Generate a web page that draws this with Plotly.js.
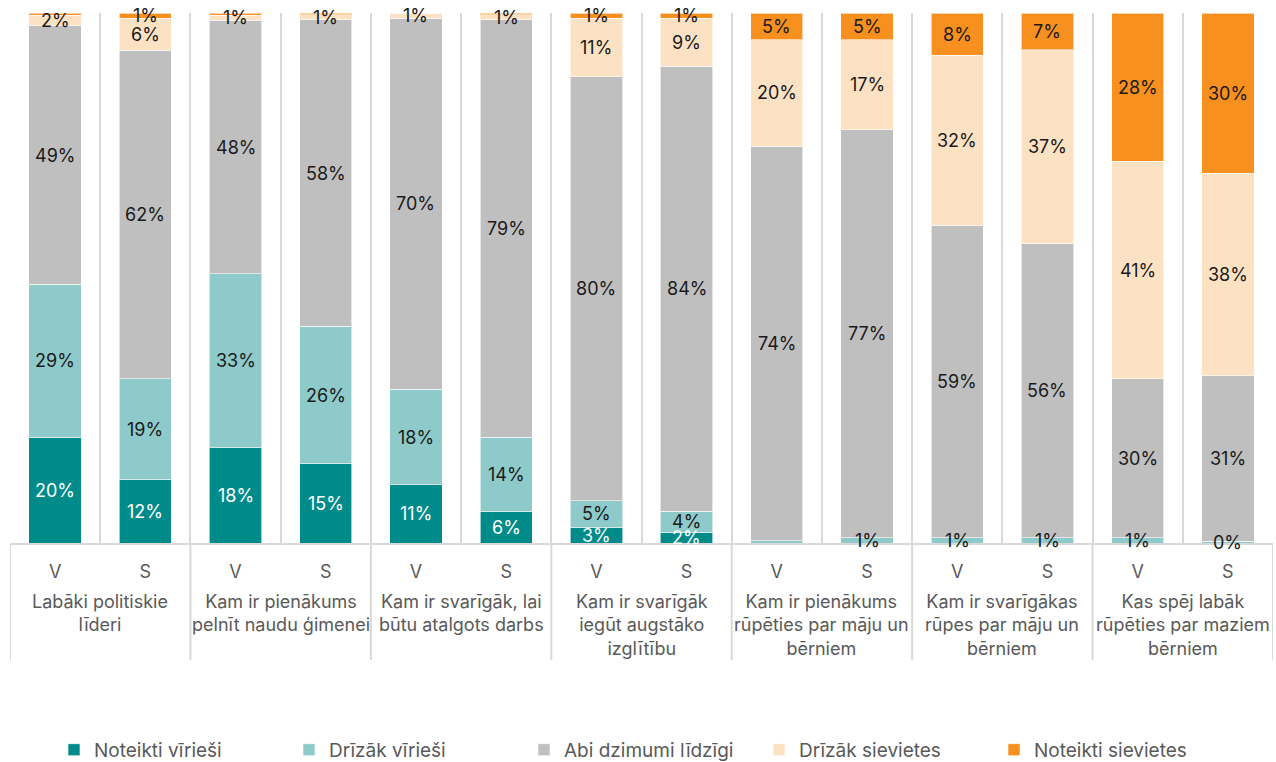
<!DOCTYPE html>
<html>
<head>
<meta charset="utf-8">
<script src="https://cdn.plot.ly/plotly-3.0.1.min.js"></script>
<style>html,body{margin:0;padding:0;background:#fff;}#chart{width:1276px;height:762px;}</style>
</head>
<body>
<div id="chart"></div>
<script>
const groups = [
  'Labāki politiskie<br>līderi',
  'Kam ir pienākums<br>pelnīt naudu ģimenei',
  'Kam ir svarīgāk, lai<br>būtu atalgots darbs',
  'Kam ir svarīgāk<br>iegūt augstāko<br>izglītību',
  'Kam ir pienākums<br>rūpēties par māju un<br>bērniem',
  'Kam ir svarīgākas<br>rūpes par māju un<br>bērniem',
  'Kas spēj labāk<br>rūpēties par maziem<br>bērniem'
];
const sexes = ['V', 'S'];

const seriesNames = ['Noteikti vīrieši', 'Drīzāk vīrieši', 'Abi dzimumi līdzīgi', 'Drīzāk sievietes', 'Noteikti sievietes'];
const noteiktiVirieshi  = [20, 12, 18, 15, 11, 6, 3, 2, 0, 0, 0, 0, 0, 0];
const drizakVirieshi    = [29, 19, 33, 26, 18, 14, 5, 4, 0.4, 1, 1, 1, 1, 0.3];
const abiDzimumi        = [49, 62, 48, 58, 70, 79, 80, 84, 74, 77, 59, 56, 30, 31];
const drizakSievietes   = [2, 6, 1, 1, 1, 1, 11, 9, 20, 17, 32, 37, 41, 38];
const noteiktiSievietes = [0.4, 1, 0.4, 0.3, 0, 0.3, 1, 1, 5, 5, 8, 7, 28, 30];
// labels that the reference shows for tiny segments (series index, bar index)
const forcedLabels = [[1, 13]];

const colors = ['#008b8b', '#8ecaca', '#bfbfbf', '#fde1c3', '#f7901e'];
const textColors = ['#ffffff', '#1a1a1a', '#1a1a1a', '#1a1a1a', '#1a1a1a'];
const labelFont = {family: 'Inter, sans-serif', size: 18, color: '#595959'};

// bar positions (one per group x sex) and their tick labels
const xPos = [], xText = [];
groups.forEach((g, gi) => sexes.forEach((s, si) => { xPos.push(gi * sexes.length + si); xText.push(s); }));
const nBars = xPos.length;

const allSeries = [noteiktiVirieshi, drizakVirieshi, abiDzimumi, drizakSievietes, noteiktiSievietes];
const traces = allSeries.map((vals, si) => ({
  type: 'bar',
  name: seriesNames[si],
  x: xPos,
  y: vals,
  marker: {color: colors[si], line: {color: 'rgba(255,255,255,0.6)', width: 1}},
  hoverinfo: 'name+y'
}));

// value labels as annotations at the middle of each (normalized) segment, drawn on top
const totals = [];
for (let i = 0; i < nBars; i++) totals.push(allSeries.reduce((s, a) => s + a[i], 0));
const annotations = [];
const cum = new Array(nBars).fill(0);
allSeries.forEach((vals, si) => {
  vals.forEach((v, i) => {
    const norm = v / totals[i] * 100;
    const mid = cum[i] + norm / 2;
    cum[i] += norm;
    const forced = forcedLabels.some(f => f[0] === si && f[1] === i);
    if (v >= 0.5 || forced) {
      annotations.push({
        x: xPos[i], y: mid, xref: 'x', yref: 'y',
        text: Math.round(v) + '%', showarrow: false,
        font: {family: 'Inter, sans-serif', size: 18, color: textColors[si]}
      });
    }
  });
});

// group labels under the V/S row, and group dividers
const shapes = [];
groups.forEach((g, gi) => {
  annotations.push({
    x: gi * sexes.length + (sexes.length - 1) / 2, xref: 'x',
    y: -0.088, yref: 'paper', yanchor: 'top',
    text: g, showarrow: false, borderpad: 0,
    font: labelFont, align: 'center'
  });
});
for (let gi = 0; gi <= groups.length; gi++) {
  const xb = gi * sexes.length - 0.5;
  shapes.push({type: 'line', xref: 'x', yref: 'paper', x0: xb, x1: xb, y0: 0, y1: -0.221,
               line: {color: '#d9d9d9', width: 2}});
}
const boundaries = [];
for (let i = 0; i <= nBars; i++) boundaries.push(i - 0.5);

const layout = {
  width: 1276, height: 762,
  margin: {l: 10, r: 3, t: 13, b: 219},
  barmode: 'stack',
  barnorm: 'percent',
  bargap: 0.42,
  paper_bgcolor: '#fff', plot_bgcolor: '#fff',
  font: {family: 'Inter, sans-serif', color: '#595959'},
  showlegend: true,
  legend: {
    orientation: 'h', x: 0.5, xanchor: 'center',
    yref: 'container', y: 0.016, yanchor: 'middle',
    font: {family: 'Inter, sans-serif', size: 19, color: '#595959'},
    entrywidth: 190, entrywidthmode: 'pixels',
    traceorder: 'normal'
  },
  annotations: annotations,
  shapes: shapes,
  xaxis: {
    type: 'linear', range: [-0.5, nBars - 0.5],
    tickmode: 'array', tickvals: xPos, ticktext: xText,
    showgrid: false, zeroline: false,
    minor: {tickmode: 'array', tickvals: boundaries, showgrid: true, gridcolor: '#d9d9d9', gridwidth: 2, ticks: ''},
    showline: true, linecolor: '#d9d9d9', linewidth: 2,
    ticks: 'outside', ticklen: 11, tickcolor: 'rgba(0,0,0,0)',
    tickfont: labelFont,
    fixedrange: true
  },
  yaxis: {
    range: [0, 100], showgrid: false, zeroline: false,
    showticklabels: false, showline: false, fixedrange: true
  }
};

Plotly.newPlot('chart', traces, layout, {displayModeBar: false, staticPlot: true});
</script>
</body>
</html>
